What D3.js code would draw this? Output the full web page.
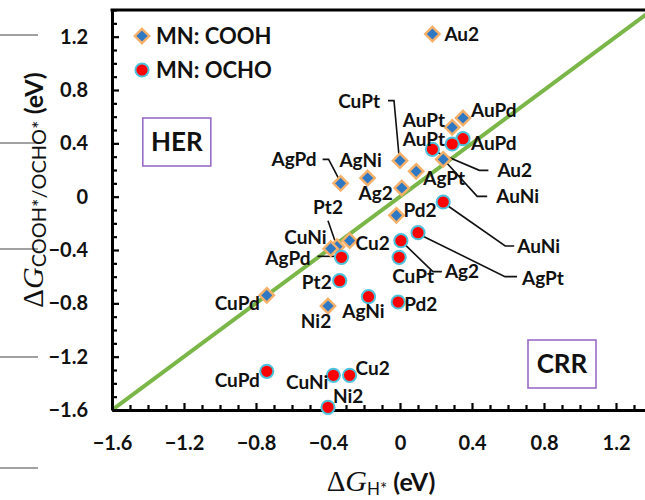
<!DOCTYPE html>
<html>
<head>
<meta charset="utf-8">
<script src="https://cdn.jsdelivr.net/npm/d3@7"></script>
<style>
  html, body { margin: 0; padding: 0; background: #fff; }
  svg { display: block; }
</style>
</head>
<body>
<svg id="chart" width="645" height="500"></svg>
<script>
// ---------------- DATA ----------------
const coohNames = ["Au2","AuPd","AuPt","AuNi","CuPt","AgPt","AgNi","AgPd","Ag2","Pd2","Cu2","Pt2","CuNi","CuPd","Ni2"];
const coohGH    = [0.18, 0.35, 0.29, 0.24, 0.00, 0.09, -0.18, -0.33, 0.01, -0.02, -0.28, -0.35, -0.385, -0.74, -0.40];
const coohG     = [1.22, 0.59, 0.52, 0.28, 0.27, 0.19, 0.14, 0.10, 0.065, -0.14, -0.33, -0.375, -0.39, -0.74, -0.82];

const ochoNames = ["AuPd","AuPt","Au2","AuNi","AgPt","Ag2","CuPt","AgPd","Pt2","AgNi","Pd2","CuPd","CuNi","Cu2","Ni2"];
const ochoGH    = [0.35, 0.29, 0.18, 0.24, 0.10, 0.005, -0.005, -0.325, -0.335, -0.175, -0.01, -0.74, -0.37, -0.28, -0.40];
const ochoG     = [0.435, 0.395, 0.355, -0.04, -0.27, -0.33, -0.455, -0.455, -0.63, -0.75, -0.79, -1.31, -1.34, -1.34, -1.58];

const xTickLabels = [-1.6, -1.2, -0.8, -0.4, 0, 0.4, 0.8, 1.2];
const yTickLabels = [-1.6, -1.2, -0.8, -0.4, 0, 0.4, 0.8, 1.2];
const seriesNames = ["MN: COOH", "MN: OCHO"];
const regionNames = ["HER", "CRR"];

// ---------------- LAYOUT (label placement, px offsets from marker) ----------------
// [anchor, dx, dy(baseline), leader points (relative) or null]
const coohLabelLayout = {
  Au2:  ["start", 12, 7, null],
  AuPd: ["start", 8, -1, null],
  AuPt: ["end", -7, 0, null],
  AuNi: ["start", 53, 44, [[2,2],[34,37],[44,37]]],
  CuPt: ["end", -20, -53, [[-12,-60],[-6,-60],[-1,-5]]],
  AgPt: ["start", 7, 14, null],
  AgNi: ["middle", -7, -11, null],
  AgPd: ["end", -24, -17, [[-18,-24],[-12,-24],[-1,-3]]],
  Ag2:  ["end", -9, 12, null],
  Pd2:  ["start", 7, 2, null],
  Cu2:  ["start", 6, 9, null],
  Pt2:  ["middle", -9, -33, [[-9,-26],[-1,-3]]],
  CuNi: ["end", -4, -5, null],
  CuPd: ["end", -7, 15, null],
  Ni2:  ["middle", -12, 22, null]
};
const ochoLabelLayout = {
  AuPd: ["start", 8, 11, null],
  AuPt: ["end", -7, 2, null],
  Au2:  ["start", 65, 28, [[2,2],[47,21],[56,21]]],
  AuNi: ["start", 74, 51, [[2,2],[62,44],[71,44]]],
  AgPt: ["start", 104, 52, [[2,2],[87,44],[99,44]]],
  Ag2:  ["start", 44, 37, [[2,2],[32,31],[41,31]]],
  CuPt: ["middle", 14, 26, null],
  AgPd: ["end", -31, 8, [[-24,-1],[-3,-1]]],
  Pt2:  ["end", -8, 8, null],
  AgNi: ["middle", -5, 21, null],
  Pd2:  ["start", 6, 9, null],
  CuPd: ["end", -7, 16, null],
  CuNi: ["end", -5, 14, null],
  Cu2:  ["start", 6, 0, null],
  Ni2:  ["start", 5, -4, null]
};

// ---------------- CHART ----------------
const svg = d3.select("#chart");
const W = 645, H = 500;
const FONT = "Lato, 'Open Sans', sans-serif";
const SERIF = "'Liberation Serif', 'DejaVu Serif', serif";

const x = d3.scaleLinear().domain([-1.6, 1.4]).range([112, 652]);
const y = d3.scaleLinear().domain([-1.6, 1.4]).range([410, 10]);

svg.append("rect").attr("width", W).attr("height", H).attr("fill", "#fff");

// stray marks at left edge of the scanned figure
const strayY = [35, 143, 249, 357, 468];
svg.append("g").selectAll("line").data(strayY).join("line")
  .attr("x1", 0).attr("x2", 38).attr("y1", d => d).attr("y2", d => d)
  .attr("stroke", "#444").attr("stroke-width", 1.2);

// clip
svg.append("defs").append("clipPath").attr("id", "plotclip")
  .append("rect").attr("x", x(-1.6)).attr("y", y(1.4))
  .attr("width", x(1.4) - x(-1.6)).attr("height", y(-1.6) - y(1.4));

// parity line
svg.append("line")
  .attr("clip-path", "url(#plotclip)")
  .attr("x1", x(-1.6)).attr("y1", y(-1.6)).attr("x2", x(1.4)).attr("y2", y(1.4))
  .attr("stroke", "#7ab648").attr("stroke-width", 4);

// minor ticks (every 0.1)
const minorVals = d3.range(-16, 15).map(i => i / 10);
const isMajor = v => Math.abs(Math.round(v * 10) % 4) === 0;

const xAxisMinor = d3.axisBottom(x).tickValues(minorVals).tickFormat("").tickSizeOuter(0).tickSizeInner(-6);
const yAxisMinor = d3.axisLeft(y).tickValues(minorVals).tickFormat("").tickSizeOuter(0).tickSizeInner(-6);

const gx = svg.append("g").attr("transform", `translate(0,${y(-1.6)})`).call(xAxisMinor);
const gy = svg.append("g").attr("transform", `translate(${x(-1.6)},0)`).call(yAxisMinor);
[gx, gy].forEach(g => {
  g.select(".domain").attr("stroke", "#000").attr("stroke-width", 3);
  g.selectAll(".tick line").attr("stroke", "#000").attr("stroke-width", 2.2);
});
gx.selectAll(".tick line").attr("y2", d => isMajor(d) ? -7 : -5);
gy.selectAll(".tick line").attr("x2", d => isMajor(d) ? 7 : 5);

// top / right border
svg.append("line").attr("x1", x(-1.6) - 1.5).attr("x2", x(1.4)).attr("y1", y(1.4)).attr("y2", y(1.4))
  .attr("stroke", "#000").attr("stroke-width", 3);
svg.append("line").attr("x1", x(1.4)).attr("x2", x(1.4)).attr("y1", y(1.4)).attr("y2", y(-1.6))
  .attr("stroke", "#000").attr("stroke-width", 3);

// tick labels
const fmt = d => d === 0 ? "0" : d3.format(".1f")(d);
const xAxisLab = d3.axisBottom(x).tickValues(xTickLabels).tickFormat(fmt).tickSize(0).tickPadding(26);
const yAxisLab = d3.axisLeft(y).tickValues(yTickLabels).tickFormat(fmt).tickSize(0).tickPadding(24);
const gxl = svg.append("g").attr("transform", `translate(0,${y(-1.6)})`).call(xAxisLab);
const gyl = svg.append("g").attr("transform", `translate(${x(-1.6)},0)`).call(yAxisLab);
[gxl, gyl].forEach(g => {
  g.select(".domain").remove();
  g.selectAll("text").attr("font-family", FONT).attr("font-weight", "bold")
    .attr("font-size", 20).attr("fill", "#111");
});

// axis titles
const xt = svg.append("text").attr("x", 381).attr("y", 491).attr("text-anchor", "middle").attr("fill", "#111");
xt.append("tspan").attr("font-family", SERIF).attr("font-size", 29).text("Δ");
xt.append("tspan").attr("font-family", SERIF).attr("font-style", "italic").attr("font-size", 30).text("G");
xt.append("tspan").attr("font-family", FONT).attr("font-size", 17).attr("dy", 4).text("H*");
xt.append("tspan").attr("font-family", FONT).attr("font-weight", "bold").attr("font-size", 25).attr("dy", -4).text(" (eV)");

const yt = svg.append("text").attr("transform", "translate(43,190) rotate(-90)")
  .attr("text-anchor", "middle").attr("fill", "#111");
yt.append("tspan").attr("font-family", SERIF).attr("font-size", 29).text("Δ");
yt.append("tspan").attr("font-family", SERIF).attr("font-style", "italic").attr("font-size", 30).text("G");
yt.append("tspan").attr("font-family", FONT).attr("font-size", 20).attr("dy", 3).text("COOH*/OCHO*");
yt.append("tspan").attr("font-family", FONT).attr("font-weight", "bold").attr("font-size", 25).attr("dy", -3).text(" (eV)");

// region boxes
const regionBoxes = [
  { name: regionNames[0], gx: -1.24, gy: 0.41 },
  { name: regionNames[1], gx: 0.90, gy: -1.255 }
];
regionBoxes.forEach(b => {
  const cx = x(b.gx), cy = y(b.gy);
  svg.append("rect").attr("x", cx - 34).attr("y", cy - 24).attr("width", 68).attr("height", 48)
    .attr("fill", "#fff").attr("stroke", "#9b6bc9").attr("stroke-width", 1.6);
  svg.append("text").attr("x", cx).attr("y", cy + 9).attr("text-anchor", "middle")
    .attr("font-family", FONT).attr("font-weight", "bold").attr("font-size", 26).attr("fill", "#111")
    .text(b.name);
});

// markers
const DIA = 7.2;
const diamondPath = (cx, cy, r) => `M${cx},${cy - r}L${cx + r},${cy}L${cx},${cy + r}L${cx - r},${cy}Z`;
const coohData = coohNames.map((n, i) => ({ name: n, gx: coohGH[i], gy: coohG[i] }));
const ochoData = ochoNames.map((n, i) => ({ name: n, gx: ochoGH[i], gy: ochoG[i] }));

function drawLeaders(data, layout) {
  data.forEach(d => {
    const L = layout[d.name];
    if (!L || !L[3]) return;
    const px = x(d.gx), py = y(d.gy);
    const pts = L[3].map(p => [px + p[0], py + p[1]]);
    svg.append("path").attr("d", d3.line()(pts)).attr("fill", "none")
      .attr("stroke", "#111").attr("stroke-width", 1.6);
  });
}
drawLeaders(coohData, coohLabelLayout);
drawLeaders(ochoData, ochoLabelLayout);

svg.append("g").selectAll("path").data(coohData).join("path")
  .attr("d", d => diamondPath(x(d.gx), y(d.gy), DIA))
  .attr("fill", "#2f78c4").attr("stroke", "#f6b06a").attr("stroke-width", 2.4);

svg.append("g").selectAll("circle").data(ochoData).join("circle")
  .attr("cx", d => x(d.gx)).attr("cy", d => y(d.gy)).attr("r", 6.6)
  .attr("fill", "#ff0000").attr("stroke", "#4cc3dc").attr("stroke-width", 2);

// labels
function drawLabels(data, layout) {
  data.forEach(d => {
    const L = layout[d.name];
    svg.append("text").attr("x", x(d.gx) + L[1]).attr("y", y(d.gy) + L[2])
      .attr("text-anchor", L[0]).attr("font-family", FONT).attr("font-weight", "bold")
      .attr("font-size", 19).attr("fill", "#111").text(d.name);
  });
}
drawLabels(coohData, coohLabelLayout);
drawLabels(ochoData, ochoLabelLayout);

// legend
const lg = svg.append("g");
lg.append("path").attr("d", diamondPath(142, 36, DIA))
  .attr("fill", "#2f78c4").attr("stroke", "#f6b06a").attr("stroke-width", 2.4);
lg.append("circle").attr("cx", 142).attr("cy", 70).attr("r", 6.6)
  .attr("fill", "#ff0000").attr("stroke", "#4cc3dc").attr("stroke-width", 2);
lg.selectAll("text").data(seriesNames).join("text")
  .attr("x", 156).attr("y", (d, i) => 44 + i * 34)
  .attr("font-family", FONT).attr("font-weight", "bold").attr("font-size", 22).attr("fill", "#111")
  .text(d => d);
</script>
</body>
</html>
